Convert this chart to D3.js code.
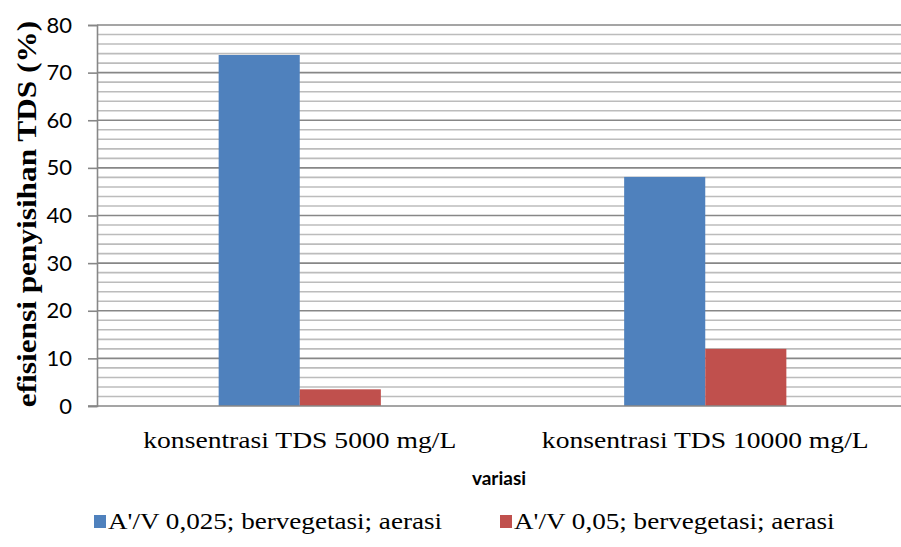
<!DOCTYPE html>
<html>
<head>
<meta charset="utf-8">
<script src="https://cdn.jsdelivr.net/npm/d3@7"></script>
<style>
  body { margin: 0; background: #fff; }
  svg { display: block; }
</style>
</head>
<body>
<svg width="901" height="547"></svg>
<script>
const categories = ["konsentrasi TDS 5000 mg/L", "konsentrasi TDS 10000 mg/L"];
const seriesNames = ["A'/V 0,025; bervegetasi; aerasi", "A'/V 0,05; bervegetasi; aerasi"];
const seriesA = [73.7, 48.1];
const seriesB = [3.5, 12];
const yTicks = [0, 10, 20, 30, 40, 50, 60, 70, 80];
const colors = ["#4F81BD", "#C0504D"];

const serif = "'Liberation Serif', 'Times New Roman', serif";
const sans = "Lato, 'Open Sans', sans-serif";

const svg = d3.select("svg");
const plot = { left: 97, right: 908, top: 25, bottom: 406 };

const x = d3.scaleBand()
  .domain(categories)
  .range([plot.left, plot.right])
  .paddingInner(0.6)
  .paddingOuter(0.3);
const xs = d3.scaleBand().domain([0, 1]).range([0, x.bandwidth()]);
const y = d3.scaleLinear().domain([0, 80]).range([plot.bottom, plot.top]);

// gridlines: minor every 2, major every 10
const minor = d3.range(2, 81, 2).filter((v) => v % 10 !== 0);
svg.append("g")
  .selectAll("line")
  .data(minor)
  .enter()
  .append("line")
  .attr("x1", plot.left)
  .attr("x2", 901)
  .attr("y1", (d) => y(d))
  .attr("y2", (d) => y(d))
  .attr("stroke", "#bcbcbc")
  .attr("stroke-width", 1.6);

svg.append("g")
  .selectAll("line")
  .data(yTicks.filter((d) => d > 0))
  .enter()
  .append("line")
  .attr("x1", plot.left)
  .attr("x2", 901)
  .attr("y1", (d) => y(d))
  .attr("y2", (d) => y(d))
  .attr("stroke", "#878787")
  .attr("stroke-width", 1.6);

// bars
const data = categories.map((c, i) => ({ cat: c, vals: [seriesA[i], seriesB[i]] }));
const groups = svg.append("g")
  .selectAll("g")
  .data(data)
  .enter()
  .append("g")
  .attr("transform", (d) => `translate(${x(d.cat)},0)`);

groups.selectAll("rect")
  .data((d) => d.vals.map((v, k) => ({ v, k })))
  .enter()
  .append("rect")
  .attr("x", (d) => xs(d.k))
  .attr("y", (d) => y(d.v))
  .attr("width", xs.bandwidth())
  .attr("height", (d) => y(0) - y(d.v))
  .attr("fill", (d) => colors[d.k]);

// y axis
const yAxis = svg.append("g")
  .attr("transform", `translate(${plot.left},0)`)
  .call(d3.axisLeft(y).tickValues(yTicks).tickSize(9).tickPadding(16));
yAxis.select(".domain").attr("stroke", "#878787").attr("stroke-width", 1.6);
yAxis.selectAll(".tick line").attr("stroke", "#878787").attr("stroke-width", 1.6);
yAxis.selectAll(".tick text")
  .attr("fill", "#000")
  .style("font-family", sans)
  .style("font-size", "22px");

// baseline
svg.append("line")
  .attr("x1", plot.left - 9)
  .attr("x2", 901)
  .attr("y1", y(0))
  .attr("y2", y(0))
  .attr("stroke", "#878787")
  .attr("stroke-width", 1.6);

// category labels (source picture is stretched a little sideways)
svg.append("g")
  .selectAll("g")
  .data(categories)
  .enter()
  .append("g")
  .attr("transform", (d) => `translate(${x(d) + x.bandwidth() / 2},448) scale(1.15,1)`)
  .append("text")
  .attr("text-anchor", "middle")
  .style("font-family", serif)
  .style("font-size", "24px")
  .text((d) => d);

// axis titles
svg.append("text")
  .attr("x", 499)
  .attr("y", 485)
  .attr("text-anchor", "middle")
  .style("font-family", sans)
  .style("font-weight", "bold")
  .style("font-size", "19px")
  .text("variasi");

svg.append("text")
  .attr("transform", "translate(36,214) scale(1,1.16) rotate(-90)")
  .attr("text-anchor", "middle")
  .style("font-family", serif)
  .style("font-weight", "bold")
  .style("font-size", "27px")
  .text("efisiensi penyisihan TDS (%)");

// legend
const legendX = [94, 500];
const legend = svg.append("g")
  .selectAll("g")
  .data(seriesNames)
  .enter()
  .append("g")
  .attr("transform", (d, i) => `translate(${legendX[i]},515)`);
legend.append("rect")
  .attr("width", 12)
  .attr("height", 13)
  .attr("fill", (d, i) => colors[i]);
legend.append("text")
  .attr("transform", "translate(14,14) scale(1.13,1)")
  .style("font-family", serif)
  .style("font-size", "24px")
  .text((d) => d);
</script>
</body>
</html>
